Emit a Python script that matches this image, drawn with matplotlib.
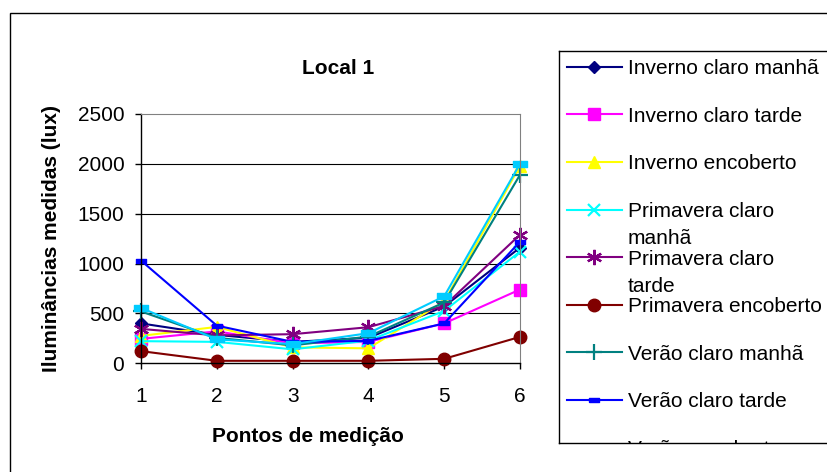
import matplotlib
matplotlib.use("Agg")
import matplotlib.pyplot as plt
from matplotlib.patches import Rectangle

plt.rcParams['font.family'] = ['Liberation Sans', 'DejaVu Sans']

pontos = [1, 2, 3, 4, 5, 6]
series_names = ["Inverno claro manhã", "Inverno claro tarde", "Inverno encoberto",
                "Primavera claro\nmanhã", "Primavera claro\ntarde", "Primavera encoberto",
                "Verão claro manhã", "Verão claro tarde", "Verão encoberto"]
inv_claro_manha = [400, 285, 215, 255, 570, 1160]
inv_claro_tarde = [245, 320, 200, 215, 400, 740]
inv_encoberto = [275, 365, 160, 150, 620, 1980]
prim_claro_manha = [222, 215, 140, 228, 525, 1120]
prim_claro_tarde = [345, 280, 292, 362, 575, 1290]
prim_encoberto = [122, 25, 25, 25, 45, 265]
ver_claro_manha = [520, 255, 180, 268, 610, 1890]
ver_claro_tarde = [1030, 378, 215, 225, 400, 1220]
ver_encoberto = [555, 240, 192, 302, 672, 2000]
yticks = [0, 500, 1000, 1500, 2000, 2500]

all_series = [inv_claro_manha, inv_claro_tarde, inv_encoberto, prim_claro_manha,
              prim_claro_tarde, prim_encoberto, ver_claro_manha, ver_claro_tarde, ver_encoberto]

# excel style colours / markers
dash = [(-1, -0.45), (1, -0.45), (1, 0.45), (-1, 0.45), (-1, -0.45)]
styles = [
    dict(color='#000080', marker='D', ms=6.5),
    dict(color='#FF00FF', marker='s', ms=8.5),
    dict(color='#FFFF00', marker='^', ms=9),
    dict(color='#00FFFF', marker='x', ms=9, mew=1.6),
    dict(color='#800080', marker=(6, 2, 0), ms=11, mew=1.6),
    dict(color='#800000', marker='o', ms=9),
    dict(color='#008080', marker='+', ms=11, mew=1.6),
    dict(color='#0000FF', marker=dash, ms=7),
    dict(color='#00CCFF', marker=dash, ms=10),
]

W, H = 828, 472
fig = plt.figure(figsize=(W / 100, H / 100), dpi=100)

# outer chart border (cut off on the right/bottom)
fig.patches.append(Rectangle((10 / W, -0.5), 1.5, 1.5 - 13 / H, transform=fig.transFigure,
                             fill=False, edgecolor='black', lw=1))

ax = fig.add_axes([141 / W, 1 - 363.3 / H, (520 - 141) / W, (363.3 - 114) / H])
for vals, st in zip(all_series, styles):
    ax.plot(pontos, vals, lw=1.5, clip_on=False, **st)

ax.set_xlim(1, 6)
ax.set_ylim(0, 2500)
ax.set_xticks(pontos)
ax.set_yticks(yticks)
for y in yticks[1:-1]:
    ax.axhline(y, color='black', lw=0.8, zorder=0)
ax.spines['top'].set_color('#808080')
ax.spines['right'].set_color('#808080')
ax.spines['left'].set_linewidth(1)
ax.spines['bottom'].set_linewidth(1)
ax.tick_params(axis='y', direction='out', length=4, width=1, pad=8, labelsize=15)
ax.tick_params(axis='x', direction='out', length=4, width=1, pad=13, labelsize=15)

fig.text(338 / W, 1 - 68 / H, "Local 1", ha='center', va='center', fontsize=15, fontweight='bold')
fig.text(308 / W, 1 - 436 / H, "Pontos de medição", ha='center', va='center', fontsize=15, fontweight='bold')
fig.text(52 / W, 1 - 238.7 / H, "Iluminâncias medidas (lux)", ha='center', va='center',
         rotation=90, fontsize=15, fontweight='bold')

# legend box, clipped like the original
top, bot = 50.7, 443
lax = fig.add_axes([559 / W, 1 - bot / H, 0.5, (bot - top) / H])
lax.set_xlim(0, 0.5 * W)
lax.set_ylim(bot - top, 0)
lax.set_xticks([])
lax.set_yticks([])
for s in lax.spines.values():
    s.set_linewidth(1)
    s.set_color('black')
for i, (name, st) in enumerate(zip(series_names, styles)):
    y = 16 + 47.6 * i
    lax.plot([8, 63], [y, y], lw=1.5, color=st['color'])
    lax.plot([35.5], [y], lw=0, **st)
    lines = name.split("\n")
    for j, t in enumerate(lines):
        lax.text(69, y + 7.5 + 27 * j, t, ha='left', va='baseline', fontsize=15, clip_on=True)

fig.savefig("out.png", dpi=100)
